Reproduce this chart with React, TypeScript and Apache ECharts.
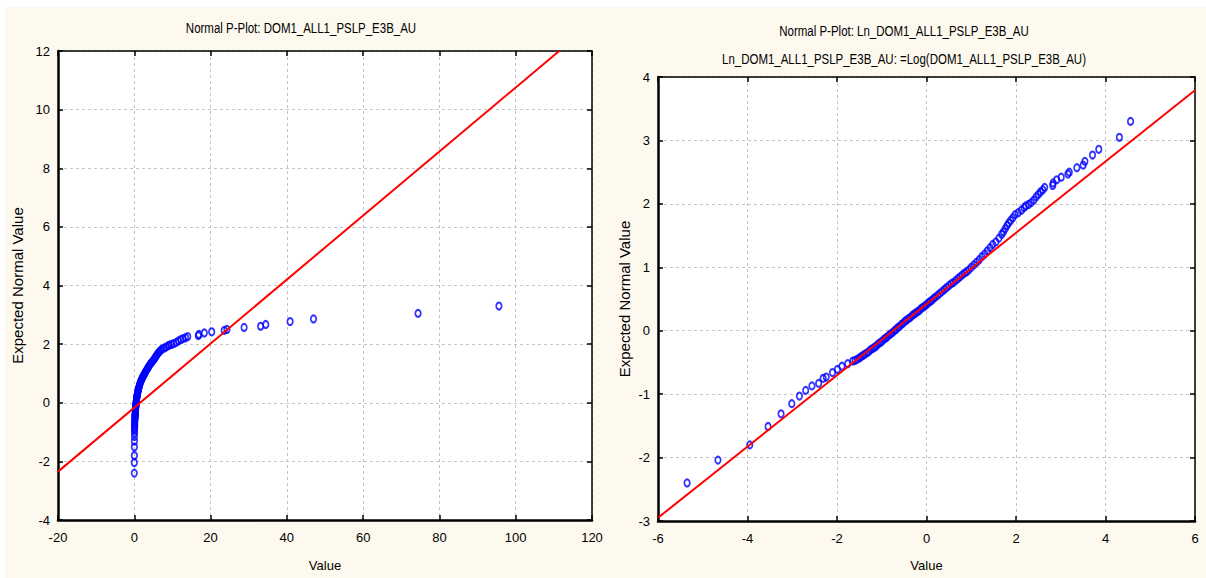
import React, { useEffect, useRef } from 'react';
import * as echarts from 'echarts';

const leftTitle = 'Normal P-Plot: DOM1_ALL1_PSLP_E3B_AU';
const rightTitle1 = 'Normal P-Plot: Ln_DOM1_ALL1_PSLP_E3B_AU';
const rightTitle2 = 'Ln_DOM1_ALL1_PSLP_E3B_AU: =Log(DOM1_ALL1_PSLP_E3B_AU)';
const xAxisName = 'Value';
const yAxisName = 'Expected Normal Value';

// Expected normal values (shared y of both panels)
const expectedNormal = [
  -2.40, -2.04, -1.80, -1.51, -1.31, -1.15, -1.03, -0.94, -0.87, -0.83,
  -0.75, -0.73, -0.66, -0.61, -0.56, -0.52, -0.48,
  -0.47, -0.45, -0.43, -0.41, -0.39, -0.37, -0.35, -0.33, -0.30, -0.28,
  -0.26, -0.24, -0.21, -0.19, -0.17, -0.14, -0.12, -0.10, -0.07, -0.05,
  -0.03, 0.00, 0.02, 0.05, 0.07, 0.10, 0.12, 0.15, 0.17, 0.19,
  0.21, 0.24, 0.26, 0.28, 0.30, 0.32, 0.35, 0.37, 0.39, 0.41,
  0.44, 0.46, 0.48, 0.51, 0.53, 0.56, 0.59, 0.62, 0.65, 0.68,
  0.71, 0.74, 0.76, 0.79, 0.82, 0.85, 0.88, 0.91, 0.93, 0.96,
  1.00, 1.04, 1.08, 1.12, 1.17, 1.21, 1.26, 1.31, 1.36, 1.40,
  1.46, 1.52, 1.56, 1.61, 1.66, 1.70, 1.74, 1.78, 1.83, 1.86,
  1.90, 1.94, 1.97, 1.99, 2.02, 2.06, 2.11, 2.15, 2.19, 2.22,
  2.26, 2.29, 2.33, 2.38, 2.42, 2.47, 2.50, 2.57, 2.61, 2.67,
  2.77, 2.86, 3.05, 3.30,
];

// Raw values (left panel x)
const rawValues = [
  0.0047, 0.0095, 0.019, 0.029, 0.039, 0.049, 0.058, 0.067, 0.077, 0.090,
  0.099, 0.106, 0.122, 0.137, 0.151, 0.172, 0.192,
  0.202, 0.212, 0.223, 0.232, 0.242, 0.252, 0.264, 0.275, 0.287, 0.301,
  0.313, 0.326, 0.340, 0.353, 0.368, 0.383, 0.399, 0.415, 0.432, 0.449,
  0.468, 0.487, 0.507, 0.527, 0.549, 0.571, 0.595, 0.619, 0.644, 0.670,
  0.698, 0.726, 0.756, 0.787, 0.819, 0.852, 0.887, 0.923, 0.961, 1.000,
  1.041, 1.083, 1.127, 1.174, 1.221, 1.284, 1.350, 1.419, 1.492, 1.568,
  1.649, 1.733, 1.822, 1.916, 2.014, 2.117, 2.226, 2.340, 2.460, 2.586,
  2.718, 2.886, 3.065, 3.254, 3.456, 3.669, 3.896, 4.137, 4.393, 4.711,
  5.053, 5.366, 5.585, 5.812, 6.050, 6.297, 6.554, 6.890, 7.243, 7.768,
  8.331, 8.846, 9.207, 9.777, 10.38, 11.02, 11.59, 12.18, 12.81, 13.46,
  14.01, 16.78, 16.95, 18.36, 20.29, 23.57, 24.29, 28.79, 33.12, 34.47,
  40.85, 46.99, 74.4, 95.6,
];

// Log values (right panel x)
const lnValues = [
  -5.35, -4.66, -3.95, -3.54, -3.25, -3.01, -2.84, -2.70, -2.56, -2.41,
  -2.31, -2.24, -2.10, -1.99, -1.89, -1.76, -1.65,
  -1.60, -1.55, -1.50, -1.46, -1.42, -1.38, -1.33, -1.29, -1.25, -1.20,
  -1.16, -1.12, -1.08, -1.04, -1.00, -0.96, -0.92, -0.88, -0.84, -0.80,
  -0.76, -0.72, -0.68, -0.64, -0.60, -0.56, -0.52, -0.48, -0.44, -0.40,
  -0.36, -0.32, -0.28, -0.24, -0.20, -0.16, -0.12, -0.08, -0.04, 0.00,
  0.04, 0.08, 0.12, 0.16, 0.20, 0.25, 0.30, 0.35, 0.40, 0.45,
  0.50, 0.55, 0.60, 0.65, 0.70, 0.75, 0.80, 0.85, 0.90, 0.95,
  1.00, 1.06, 1.12, 1.18, 1.24, 1.30, 1.36, 1.42, 1.48, 1.55,
  1.62, 1.68, 1.72, 1.76, 1.80, 1.84, 1.88, 1.93, 1.98, 2.05,
  2.12, 2.18, 2.22, 2.28, 2.34, 2.40, 2.45, 2.50, 2.55, 2.60,
  2.64, 2.82, 2.83, 2.91, 3.01, 3.16, 3.19, 3.36, 3.50, 3.54,
  3.71, 3.85, 4.31, 4.56,
];

// Fitted reference lines (endpoints)
const leftFitX = [-20, 111.4];
const leftFitY = [-2.35, 12];
const rightFitX = [-6, 6];
const rightFitY = [-2.95, 3.79];

// Axis ranges
const leftXRange = { min: -20, max: 120, interval: 20 };
const leftYRange = { min: -4, max: 12, interval: 2 };
const rightXRange = { min: -6, max: 6, interval: 2 };
const rightYRange = { min: -3, max: 4, interval: 1 };

const FONT = "'Liberation Sans', Arial, sans-serif";

export default function App() {
  const ref = useRef<HTMLDivElement>(null);

  useEffect(() => {
    if (!ref.current) return;
    const chart = echarts.init(ref.current, null, { renderer: 'svg' });

    const primaryX = (gridIndex: number, r: any, nameGap: number) => ({
      type: 'value',
      gridIndex,
      position: 'bottom',
      ...r,
      name: xAxisName,
      nameLocation: 'middle',
      nameGap,
      nameTextStyle: { fontFamily: FONT, fontSize: 13, color: '#000' },
      axisLine: { show: true, onZero: false, lineStyle: { color: '#000', width: 2.5 } },
      axisTick: { show: true, inside: true, length: 5, lineStyle: { color: '#000', width: 1.5 } },
      axisLabel: { fontFamily: FONT, fontSize: 13, color: '#000', margin: 11 },
      splitLine: { show: true, lineStyle: { color: '#c4c4c4', type: [3, 3], width: 1 } },
    });
    const secondaryX = (gridIndex: number, r: any) => ({
      type: 'value',
      gridIndex,
      position: 'top',
      ...r,
      axisLine: { show: true, onZero: false, lineStyle: { color: '#000', width: 1.5 } },
      axisTick: { show: true, inside: true, length: 5, lineStyle: { color: '#000', width: 1.5 } },
      axisLabel: { show: false },
      splitLine: { show: false },
    });
    const primaryY = (gridIndex: number, r: any, nameGap: number, nameSize: number) => ({
      type: 'value',
      gridIndex,
      position: 'left',
      ...r,
      name: yAxisName,
      nameLocation: 'middle',
      nameGap,
      nameTextStyle: { fontFamily: FONT, fontSize: nameSize, color: '#000' },
      axisLine: { show: true, onZero: false, lineStyle: { color: '#000', width: 2.5 } },
      axisTick: { show: true, inside: true, length: 5, lineStyle: { color: '#000', width: 1.5 } },
      axisLabel: { fontFamily: FONT, fontSize: 13, color: '#000', margin: 8 },
      splitLine: { show: true, lineStyle: { color: '#c4c4c4', type: [3, 3], width: 1 } },
    });
    const secondaryY = (gridIndex: number, r: any) => ({
      type: 'value',
      gridIndex,
      position: 'right',
      ...r,
      axisLine: { show: true, onZero: false, lineStyle: { color: '#000', width: 1.5 } },
      axisTick: { show: true, inside: true, length: 5, lineStyle: { color: '#000', width: 1.5 } },
      axisLabel: { show: false },
      splitLine: { show: false },
    });

    const pointStyle = {
      color: 'rgba(0,0,0,0)',
      borderColor: '#0000ff',
      borderWidth: 1.9,
    };

    const leftPoints = expectedNormal.map((y, i) => [rawValues[i], y]);
    const rightPoints = expectedNormal.map((y, i) => [lnValues[i], y]);
    const leftLine = leftFitX.map((x, i) => [x, leftFitY[i]]);
    const rightLine = rightFitX.map((x, i) => [x, rightFitY[i]]);

    const titleText = (text: string, x: number, y: number) => ({
      type: 'text',
      x,
      y,
      scaleX: 0.82,
      scaleY: 1,
      style: {
        text,
        fill: '#000',
        font: `14px ${FONT}`,
        textAlign: 'center',
        textVerticalAlign: 'middle',
      },
    });

    chart.setOption({
      animation: false,
      backgroundColor: 'transparent',
      graphic: [
        titleText(leftTitle, 301, 28),
        titleText(rightTitle1, 904, 31),
        titleText(rightTitle2, 904, 59),
      ],
      grid: [
        { left: 58, top: 51, width: 534, height: 469, show: true, backgroundColor: '#fff', borderWidth: 0 },
        { left: 658, top: 77, width: 537, height: 444, show: true, backgroundColor: '#fff', borderWidth: 0 },
      ],
      xAxis: [
        primaryX(0, leftXRange, 39),
        secondaryX(0, leftXRange),
        primaryX(1, rightXRange, 38),
        secondaryX(1, rightXRange),
      ],
      yAxis: [
        primaryY(0, leftYRange, 33, 15),
        secondaryY(0, leftYRange),
        primaryY(1, rightYRange, 26, 15),
        secondaryY(1, rightYRange),
      ],
      series: [
        {
          type: 'scatter',
          xAxisIndex: 0,
          yAxisIndex: 0,
          data: leftPoints,
          symbol: 'circle',
          symbolSize: [5.5, 7],
          itemStyle: pointStyle,
          z: 2,
        },
        {
          type: 'line',
          xAxisIndex: 0,
          yAxisIndex: 0,
          data: leftLine,
          symbol: 'none',
          clip: true,
          lineStyle: { color: '#ff0000', width: 2 },
          z: 3,
        },
        {
          type: 'scatter',
          xAxisIndex: 2,
          yAxisIndex: 2,
          data: rightPoints,
          symbol: 'circle',
          symbolSize: [5.5, 7],
          itemStyle: pointStyle,
          z: 2,
        },
        {
          type: 'line',
          xAxisIndex: 2,
          yAxisIndex: 2,
          data: rightLine,
          symbol: 'none',
          clip: true,
          lineStyle: { color: '#ff0000', width: 2 },
          z: 3,
        },
      ],
    });

    return () => chart.dispose();
  }, []);

  return (
    <div style={{ position: 'fixed', left: 0, top: 0, width: 1206, height: 578, background: '#ffffff' }}>
      <div style={{ position: 'absolute', left: 5, top: 7, right: 0, bottom: 0, background: '#fdf9ee' }} />
      <div ref={ref} style={{ position: 'absolute', left: 0, top: 0, width: 1206, height: 578 }} />
    </div>
  );
}
